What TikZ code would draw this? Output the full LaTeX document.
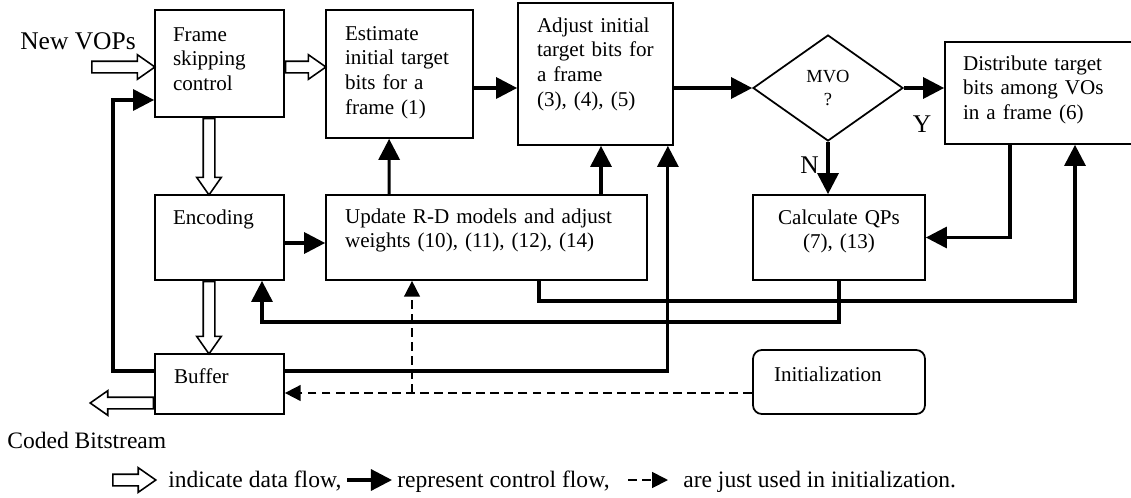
\documentclass[tikz,border=0pt]{standalone}
\usepackage{fontspec}
\setmainfont{Liberation Serif}
\usetikzlibrary{arrows.meta,shapes.geometric,shapes.arrows,calc}

\tikzset{
  box/.style={draw, line width=1pt, inner ysep=0pt, align=left,
    font=\fontsize{12}{14.2}\selectfont},
  decision/.style={draw, diamond, line width=1pt, inner sep=0pt, align=center,
    minimum width=3cm, minimum height=2.12cm, font=\fontsize{10.5}{13}\selectfont},
  ctrl/.style={line width=1.8pt, -{Triangle[length=12pt,width=12pt]}},
  initflow/.style={line width=1pt, dash pattern=on 5pt off 3pt, -{Triangle[length=9pt,width=9pt]}},
  hollow/.style={draw, single arrow, line width=0.9pt, fill=white, inner sep=0.1cm,
    single arrow head extend=0.13cm, single arrow tip angle=70, single arrow head indent=0pt},
  lbl/.style={inner sep=0pt, font=\fontsize{13.4}{16}\selectfont},
  biglbl/.style={inner sep=0pt, font=\fontsize{14.5}{17}\selectfont},
}

% hollow data-flow arrow from #1 to #2
\newcommand{\dataflow}[2]{%
  \path let \p1=(#1), \p2=(#2), \n1={veclen(\x2-\x1,\y2-\y1)}, \n2={atan2(\y2-\y1,\x2-\x1)} in
    node[hollow, anchor=tail, rotate=\n2, minimum height=\n1] at (\p1) {};}

\begin{document}
\begin{tikzpicture}[x=0.02cm, y=-0.02cm]
  \useasboundingbox (0,0) rectangle (1131,497);

  \node[box, text width=1.86cm, inner xsep=0.36cm, text height=0.62cm, text depth=1.52cm] (frame) at (219.5,63.5) {Frame\\skipping\\control};
  \node[box, text width=2.18cm, inner xsep=0.38cm, text height=0.6cm, text depth=1.96cm] (est) at (399.5,74) {Estimate\\initial target\\bits for a\\frame (1)};
  \node[box, text width=2.34cm, inner xsep=0.38cm, text height=0.58cm, text depth=2.26cm] (adj) at (595.5,74) {Adjust initial\\target bits for\\a frame\\(3), (4), (5)};
  \node[decision] (mvo) at (828,88) {MVO\\?};
  \node[box, text width=3.02cm, inner xsep=0.36cm, text height=0.56cm, text depth=1.48cm] (dist) at (1038.5,93) {Distribute target\\bits among VOs\\in a frame (6)};
  \node[box, text width=1.86cm, inner xsep=0.36cm, text height=0.58cm, text depth=1.12cm] (enc) at (219.5,237.5) {Encoding};
  \node[box, text width=5.66cm, inner xsep=0.38cm, text height=0.56cm, text depth=1.14cm] (upd) at (486.5,237.5) {Update R-D models and adjust\\weights (10), (11), (12), (14)};
  \node[box, align=center, text width=2.72cm, inner xsep=0.36cm, text height=0.58cm, text depth=1.12cm] (calc) at (839,237.5) {Calculate QPs\\(7), (13)};
  \node[box, text width=1.82cm, inner xsep=0.38cm, text height=0.58cm, text depth=0.62cm] (buf) at (219.5,384) {Buffer};
  \node[box, rounded corners=5pt, text width=2.6cm, inner xsep=0.42cm, text height=0.62cm, text depth=0.66cm] (init) at (839,382) {Initialization};

  \node[biglbl, anchor=base west] (newvops) at (20,49) {New VOPs};
  \node[biglbl, anchor=base] (yes) at (922,132) {Y};
  \node[biglbl, anchor=base] (no) at (809.5,173) {N};
  \node[lbl, anchor=base west] (coded) at (7,448) {Coded Bitstream};

  % data flow
  \coordinate (vops) at (91,67);
  \coordinate (dcol) at (209,0);
  \coordinate (cbs) at (91,403);
  \dataflow{vops}{frame.west |- vops}
  \dataflow{frame.east |- vops}{est.west |- vops}
  \dataflow{frame.south -| dcol}{enc.north -| dcol}
  \dataflow{enc.south -| dcol}{buf.north -| dcol}
  \dataflow{buf.west |- cbs}{cbs}

  % control flow
  \coordinate (fbk) at (113,100);
  \draw[ctrl] ([yshift=0.26cm]buf.west) -| (fbk) -- (frame.west |- fbk);
  \draw[ctrl] ([yshift=0.26cm]buf.east) -| ([xshift=-0.12cm]adj.south east);
  \draw[ctrl] ([yshift=-0.11cm]enc.east) -- ([yshift=-0.11cm]upd.west);
  \draw[ctrl] ([xshift=1.28cm]upd.north west) -- ([xshift=1.28cm]est.south west);
  \coordinate (adjin) at ([xshift=0.11cm]adj.south);
  \draw[ctrl] (adjin |- upd.north) -- (adjin);
  \draw[ctrl] ([yshift=-0.28cm]est.east) -- ([yshift=-0.28cm]adj.west);
  \draw[ctrl] (adj.east |- mvo.west) -- (mvo.west);
  \draw[ctrl] (mvo.east) -- (dist.west |- mvo.east);
  \draw[ctrl] (mvo.south) -- (calc.north -| mvo.south);
  \draw[ctrl] ([xshift=-0.57cm]dist.south) |- (calc.east);
  \coordinate (distin) at ([xshift=0.73cm]dist.south);
  \coordinate (lvla) at (0,301);
  \draw[ctrl] ([xshift=1.05cm]upd.south) |- (lvla -| distin) -- (distin);
  \coordinate (encin) at ([xshift=0.85cm]enc.south);
  \coordinate (lvlb) at (0,322);
  \draw[ctrl] (calc.south) |- (lvlb -| encin) -- (encin);

  % initialization
  \coordinate (dl) at ([yshift=-0.22cm]init.west);
  \draw[initflow] (dl) -- (buf.east |- dl);
  \coordinate (updin) at ([xshift=-1.49cm]upd.south);
  \draw[initflow] (updin |- dl) -- (updin);

  % legend
  \coordinate (lg1) at (112,480);
  \coordinate (lg2) at (155,480);
  \coordinate (lg3) at (347,480);
  \coordinate (lg4) at (392,480);
  \coordinate (lg5) at (628,480);
  \coordinate (lg6) at (668,480);
  \dataflow{lg1}{lg2}
  \node[lbl, anchor=base west] (lgdata) at (168,487) {indicate data flow,};
  \draw[ctrl] (lg3) -- (lg4);
  \node[lbl, anchor=base west] (lgctrl) at (397,487) {represent control flow,};
  \draw[initflow] (lg5) -- (lg6);
  \node[lbl, anchor=base west] (lginit) at (683,487) {are just used in initialization.};
\end{tikzpicture}
\end{document}
